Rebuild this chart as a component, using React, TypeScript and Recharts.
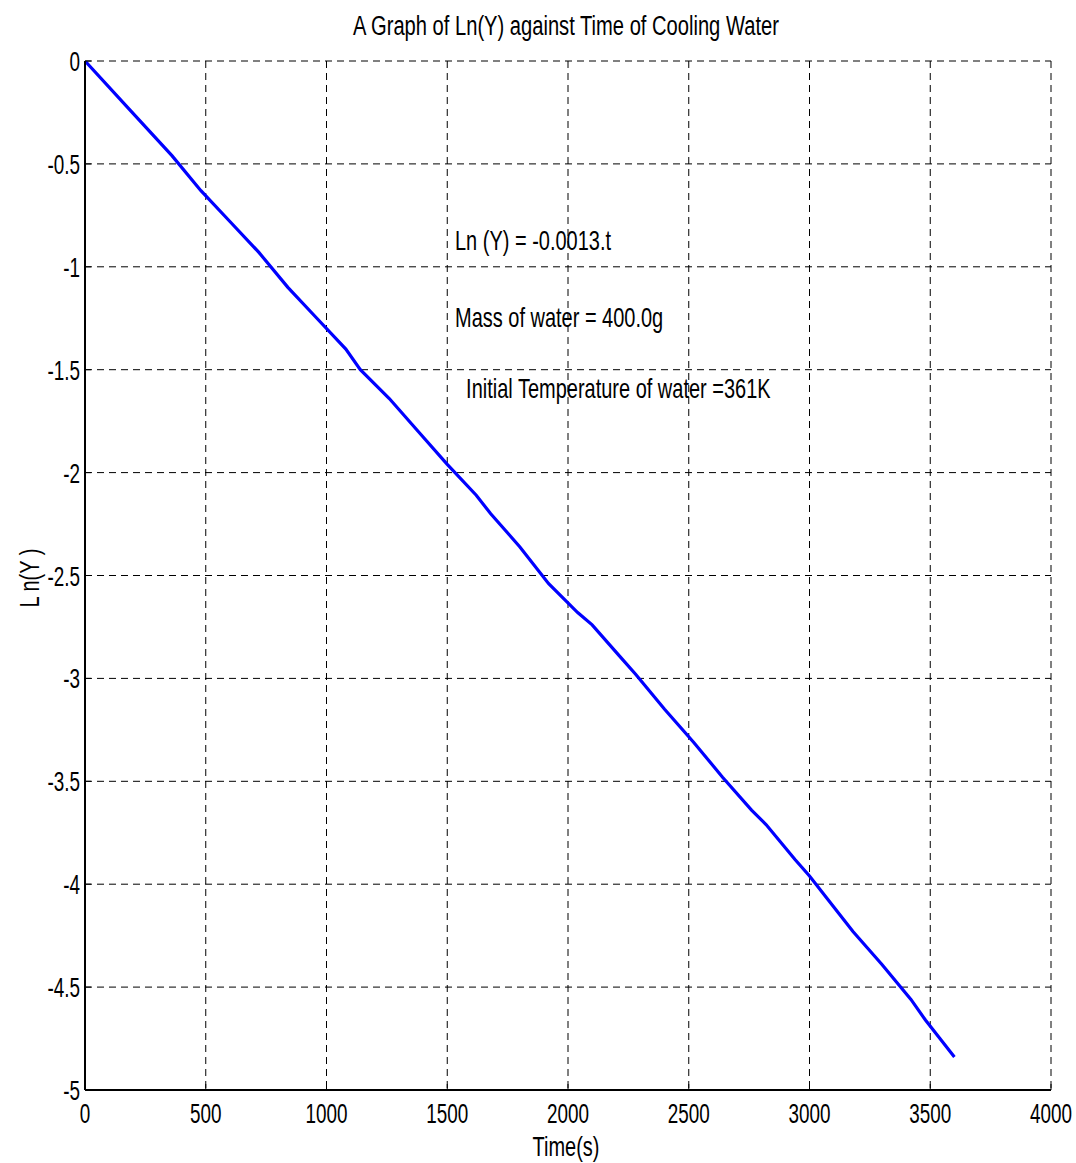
import React from 'react';
import {
  LineChart,
  Line,
  XAxis,
  YAxis,
  CartesianGrid,
} from 'recharts';

// time (s) and Ln(Y)
const times = [
  0, 180, 360, 480, 600, 720, 840, 960, 1080, 1140, 1260, 1380, 1500, 1620,
  1680, 1800, 1920, 2040, 2100, 2220, 2280, 2400, 2520, 2640, 2760, 2820,
  2940, 3000, 3120, 3180, 3240, 3300, 3420, 3480, 3540, 3600,
];
const lnY = [
  0, -0.23, -0.46, -0.63, -0.78, -0.93, -1.1, -1.25, -1.4, -1.5, -1.64, -1.8,
  -1.96, -2.11, -2.2, -2.36, -2.54, -2.68, -2.74, -2.9, -2.98, -3.15, -3.31,
  -3.48, -3.64, -3.71, -3.88, -3.96, -4.14, -4.23, -4.31, -4.39, -4.56, -4.66,
  -4.75, -4.84,
];
const xTicks = [0, 500, 1000, 1500, 2000, 2500, 3000, 3500, 4000];
const yTicks = [0, -0.5, -1, -1.5, -2, -2.5, -3, -3.5, -4, -4.5, -5];

const titleText = 'A Graph of Ln(Y) against Time of Cooling Water';
const notes = [
  'Ln (Y) = -0.0013.t',
  'Mass of water = 400.0g',
  '  Initial Temperature of water =361K',
];

const data = times.map((t, i) => ({ t, v: lnY[i] }));

const FONT = '"Liberation Sans", Arial, sans-serif';

// narrow lettering like the original figure
function NarrowText({ x, y, anchor = 'start', size = 27, sx = 0.7, rotate = 0, children }: any) {
  return (
    <text
      transform={`translate(${x},${y}) rotate(${rotate}) scale(${sx},1)`}
      textAnchor={anchor}
      fontFamily={FONT}
      fontSize={size}
      fill="#000"
      style={{ whiteSpace: 'pre' }}
    >
      {children}
    </text>
  );
}

function XTick({ x, y, payload }: any) {
  return (
    <NarrowText x={x} y={y + 33} anchor="middle">
      {String(payload.value)}
    </NarrowText>
  );
}

function YTick({ x, y, payload }: any) {
  return (
    <NarrowText x={x - 5} y={y + 10} anchor="end">
      {String(payload.value)}
    </NarrowText>
  );
}

export default function App() {
  return (
    <div style={{ position: 'absolute', left: 0, top: 0, width: 1076, height: 1163, background: '#fff' }}>
      <LineChart
        width={1076}
        height={1163}
        data={data}
        margin={{ top: 61, right: 25, bottom: 43, left: 25 }}
      >
        <CartesianGrid
          stroke="#000"
          strokeDasharray="7 5"
          strokeWidth={1}
          verticalValues={xTicks}
          horizontalValues={yTicks}
        />
        <XAxis
          dataKey="t"
          type="number"
          domain={[0, 4000]}
          ticks={xTicks}
          height={30}
          tickSize={-6}
          tickMargin={6}
          tick={<XTick />}
          axisLine={{ stroke: '#000', strokeWidth: 2 }}
          tickLine={{ stroke: '#000' }}
          allowDataOverflow
        />
        <XAxis
          xAxisId="top"
          orientation="top"
          type="number"
          domain={[0, 4000]}
          ticks={xTicks}
          height={0}
          tickSize={-6}
          tick={false}
          axisLine={{ stroke: '#000', strokeWidth: 2 }}
          tickLine={{ stroke: '#000' }}
          allowDataOverflow
        />
        <YAxis
          type="number"
          domain={[-5, 0]}
          ticks={yTicks}
          width={60}
          tickSize={-6}
          tickMargin={6}
          tick={<YTick />}
          axisLine={{ stroke: '#000', strokeWidth: 2 }}
          tickLine={{ stroke: '#000' }}
          allowDataOverflow
        />
        <YAxis
          yAxisId="right"
          orientation="right"
          type="number"
          domain={[-5, 0]}
          ticks={yTicks}
          width={0}
          tickSize={-6}
          tick={false}
          axisLine={{ stroke: '#000', strokeWidth: 2 }}
          tickLine={{ stroke: '#000' }}
          allowDataOverflow
        />
        <Line
          type="linear"
          dataKey="v"
          stroke="#0000ff"
          strokeWidth={3.2}
          dot={false}
          isAnimationActive={false}
        />
      </LineChart>
      <svg
        width={1076}
        height={1163}
        style={{ position: 'absolute', left: 0, top: 0, pointerEvents: 'none' }}
      >
        <NarrowText x={566} y={35} anchor="middle" size={28} sx={0.72}>{titleText}</NarrowText>
        <NarrowText x={455} y={250} sx={0.74}>{notes[0]}</NarrowText>
        <NarrowText x={455} y={327} sx={0.74}>{notes[1]}</NarrowText>
        <NarrowText x={455} y={398} sx={0.74}>{notes[2]}</NarrowText>
        <NarrowText x={566} y={1156} anchor="middle" sx={0.74}>Time(s)</NarrowText>
        <NarrowText x={39} y={578} anchor="middle" rotate={-90} sx={0.74}>L n(Y )</NarrowText>
      </svg>
    </div>
  );
}
